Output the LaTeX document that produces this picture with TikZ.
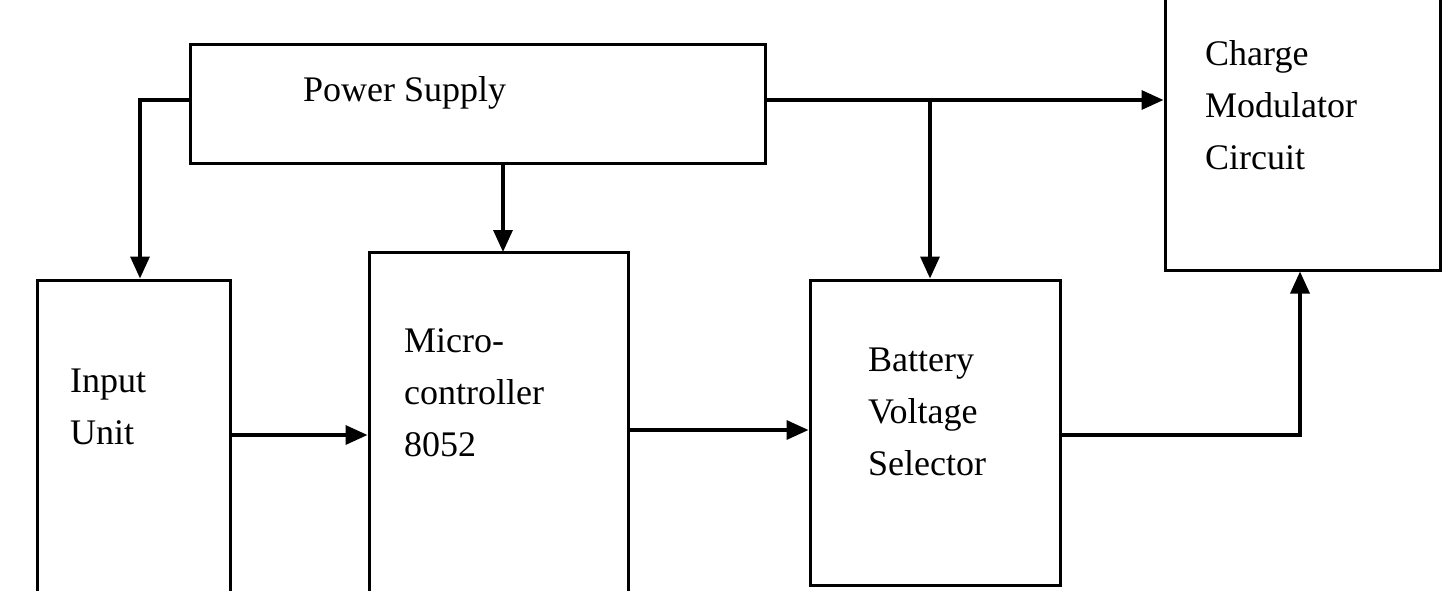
\documentclass[tikz,border=0pt]{standalone}
\usepackage{fontspec}
\setmainfont{Liberation Serif}
\usetikzlibrary{arrows.meta}
\begin{document}
\begin{tikzpicture}[x=1pt,y=-1pt,
  box/.style={draw,line width=3pt,inner sep=0pt},
  lbl/.style={anchor=west,align=left,font=\fontsize{36}{52}\selectfont,inner sep=0pt},
  arr/.style={line width=3.4pt,-{Triangle[length=22pt,width=19pt]}},
  ln/.style={line width=3.4pt}]
\useasboundingbox (0,0) rectangle (1456,591);
\clip (0,0) rectangle (1456,591);
\fill[white] (0,0) rectangle (1456,591);
\node[box,minimum width=575pt,minimum height=118pt] (ps) at (477.5,104) {};
\node[box,minimum width=275pt,minimum height=300pt] (cm) at (1302.5,120) {};
\node[box,minimum width=193pt,minimum height=340pt] (iu) at (133.5,450) {};
\node[box,minimum width=259pt,minimum height=380pt] (mc) at (498.5,442) {};
\node[box,minimum width=250pt,minimum height=305pt] (bv) at (935,432.5) {};
\node[lbl] (tps) at (303,93) {Power Supply};
\node[lbl] (tcm) at (1205,105) {Charge\\Modulator\\Circuit};
\node[lbl] (tiu) at (70,407) {Input\\Unit};
\node[lbl] (tmc) at (404,393) {Micro-\\controller\\8052};
\node[lbl] (tbv) at (868,412) {Battery\\Voltage\\Selector};
\coordinate (a1) at (140,100);
\coordinate (b1) at (930,100);
\coordinate (c1) at (1300,435);
\draw[arr] (ps.west |- a1) -- (a1) -- (a1 |- iu.north);
\draw[arr] (503,163) -- (503,252);
\draw[arr] (ps.east |- a1) -- (cm.west |- a1);
\draw[arr] (b1) -- (b1 |- bv.north);
\draw[arr] (iu.east |- 0,435) -- (mc.west |- 0,435);
\draw[arr] (mc.east |- 0,430) -- (bv.west |- 0,430);
\draw[arr] (bv.east |- c1) -- (c1) -- (c1 |- cm.south);
\end{tikzpicture}
\end{document}
